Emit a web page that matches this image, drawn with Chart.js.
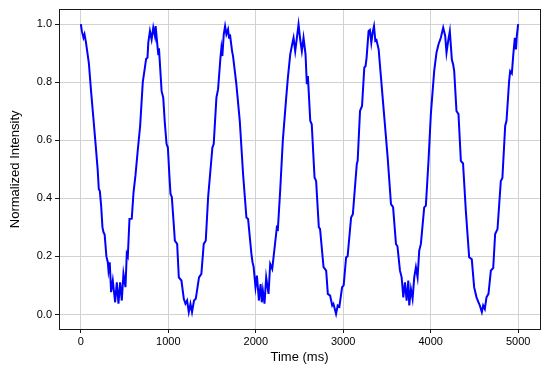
<!DOCTYPE html>
<html>
<head>
<meta charset="utf-8">
<script src="https://cdn.jsdelivr.net/npm/chart.js@4/dist/chart.umd.min.js"></script>
<style>
  html, body { margin: 0; padding: 0; background: #ffffff; }
  #wrap { width: 550px; height: 371px; }
</style>
</head>
<body>
<div id="wrap"><canvas id="c" width="550" height="371"></canvas></div>
<script>
// Time samples (ms)
const timeMs = [
  0, 12, 30, 42, 57, 91, 118, 142, 167, 192, 205, 217, 232, 247, 259, 272, 292, 308, 316, 330,
  346, 365, 392, 411, 430, 449, 468, 487, 510, 525, 537, 556, 582, 602, 624, 652, 678, 708, 732, 746,
  762, 771, 790, 809, 828, 847, 855, 874, 885, 893, 923, 942, 960, 980, 995, 1012, 1025, 1040, 1060, 1075,
  1101, 1120, 1150, 1177, 1196, 1215, 1234, 1253, 1271, 1294, 1314, 1351, 1378, 1405, 1428, 1455, 1504, 1519, 1550, 1569,
  1596, 1607, 1618, 1634, 1649, 1664, 1683, 1694, 1705, 1729, 1740, 1778, 1817, 1855, 1893, 1912, 1950, 1963, 1975, 1997,
  2013, 2036, 2055, 2069, 2081, 2100, 2119, 2146, 2165, 2188, 2203, 2241, 2253, 2279, 2309, 2348, 2367, 2394, 2416, 2432,
  2451, 2470, 2489, 2508, 2527, 2546, 2569, 2584, 2596, 2623, 2640, 2672, 2690, 2721, 2735, 2775, 2805, 2824, 2850, 2874,
  2888, 2918, 2937, 2956, 2987, 3005, 3033, 3050, 3090, 3110, 3155, 3165, 3192, 3215, 3241, 3255, 3267, 3290, 3305, 3321,
  3336, 3352, 3367, 3380, 3405, 3432, 3470, 3508, 3546, 3570, 3603, 3620, 3649, 3668, 3687, 3706, 3725, 3744, 3755, 3774,
  3793, 3812, 3831, 3850, 3869, 3888, 3926, 3945, 3975, 4002, 4040, 4066, 4089, 4116, 4143, 4166, 4181, 4200, 4219, 4242,
  4257, 4269, 4295, 4318, 4345, 4370, 4402, 4440, 4470, 4497, 4524, 4547, 4562, 4585, 4600, 4619, 4638, 4661, 4688, 4715,
  4737, 4764, 4802, 4820, 4852, 4867, 4897, 4909, 4928, 4945, 4962, 4975, 4985, 5000
];
// Normalized intensity values
const intensity = [
  1.000, 0.975, 0.953, 0.965, 0.940, 0.867, 0.764, 0.680, 0.592, 0.500, 0.432, 0.425, 0.374, 0.300, 0.283, 0.275, 0.200, 0.180, 0.151, 0.180,
  0.077, 0.117, 0.042, 0.111, 0.037, 0.111, 0.048, 0.140, 0.094, 0.209, 0.200, 0.329, 0.330, 0.420, 0.478, 0.570, 0.650, 0.800, 0.850, 0.880,
  0.885, 0.936, 0.976, 0.947, 0.988, 0.959, 0.993, 0.930, 0.896, 0.917, 0.770, 0.747, 0.660, 0.587, 0.575, 0.480, 0.415, 0.405, 0.320, 0.254,
  0.243, 0.128, 0.117, 0.054, 0.037, 0.048, 0.008, 0.037, 0.008, 0.048, 0.054, 0.128, 0.140, 0.243, 0.254, 0.403, 0.575, 0.587, 0.747, 0.776,
  0.884, 0.918, 0.890, 0.965, 0.993, 0.965, 0.982, 0.953, 0.965, 0.907, 0.890, 0.793, 0.667, 0.483, 0.334, 0.329, 0.209, 0.180, 0.165, 0.094,
  0.134, 0.048, 0.105, 0.042, 0.082, 0.037, 0.128, 0.071, 0.174, 0.157, 0.197, 0.300, 0.295, 0.426, 0.598, 0.747, 0.815, 0.896, 0.930, 0.953,
  0.907, 0.953, 0.999, 0.947, 0.907, 0.953, 0.896, 0.793, 0.821, 0.667, 0.655, 0.472, 0.460, 0.300, 0.295, 0.163, 0.151, 0.071, 0.065, 0.031,
  0.037, 0.002, 0.031, 0.027, 0.094, 0.100, 0.197, 0.200, 0.334, 0.345, 0.518, 0.529, 0.701, 0.718, 0.850, 0.855, 0.884, 0.976, 0.980, 0.936,
  0.971, 0.993, 0.942, 0.945, 0.913, 0.815, 0.678, 0.541, 0.380, 0.370, 0.243, 0.235, 0.151, 0.128, 0.059, 0.111, 0.048, 0.117, 0.031, 0.088,
  0.054, 0.128, 0.163, 0.128, 0.220, 0.243, 0.369, 0.375, 0.529, 0.690, 0.838, 0.901, 0.930, 0.953, 0.988, 0.959, 0.901, 0.942, 0.976, 0.878,
  0.861, 0.838, 0.701, 0.690, 0.529, 0.520, 0.357, 0.197, 0.190, 0.094, 0.059, 0.042, 0.031, 0.008, 0.031, 0.019, 0.059, 0.071, 0.151, 0.160,
  0.277, 0.294, 0.460, 0.470, 0.650, 0.667, 0.804, 0.838, 0.830, 0.896, 0.953, 0.913, 0.959, 1.000
];
const xTicks = [0, 1000, 2000, 3000, 4000, 5000];
const yTicks = [0.0, 0.2, 0.4, 0.6, 0.8, 1.0];
const xLabel = 'Time (ms)';
const yLabel = 'Normalized Intensity';

const points = timeMs.map((t, i) => ({ x: t, y: intensity[i] }));

const FONT = "'Liberation Sans', Arial, sans-serif";
const GRID = '#d2d2d2';
const SPINE = '#1a1a1a';

new Chart(document.getElementById('c'), {
  type: 'line',
  data: {
    datasets: [{
      data: points,
      xAxisID: 'x',
      yAxisID: 'y',
      borderColor: '#0000ff',
      borderWidth: 2,
      pointRadius: 0,
      tension: 0,
      fill: false
    }]
  },
  options: {
    responsive: false,
    animation: false,
    devicePixelRatio: 1,
    layout: { padding: { top: 9, right: 10, left: 0, bottom: 0 } },
    plugins: { legend: { display: false }, tooltip: { enabled: false } },
    scales: {
      x: {
        type: 'linear',
        position: 'bottom',
        min: -250,
        max: 5250,
        afterBuildTicks: s => { s.ticks = xTicks.map(v => ({ value: v })); },
        afterFit: s => { s.height = 42; },
        ticks: {
          callback: v => String(v),
          font: { family: FONT, size: 11 },
          color: '#000000',
          maxRotation: 0,
          padding: 2
        },
        grid: { color: GRID, lineWidth: 1, tickLength: 4, tickColor: SPINE, drawTicks: true },
        border: { display: true, color: SPINE, width: 1 },
        title: { display: true, text: xLabel, font: { family: FONT, size: 13 }, color: '#000000', padding: { top: 0, bottom: 6 } }
      },
      y: {
        type: 'linear',
        position: 'left',
        min: -0.05,
        max: 1.05,
        afterBuildTicks: s => { s.ticks = yTicks.map(v => ({ value: v })); },
        afterFit: s => { s.width = 59; },
        ticks: {
          callback: v => Number(v).toFixed(1),
          font: { family: FONT, size: 11 },
          color: '#000000',
          padding: 3
        },
        grid: { color: GRID, lineWidth: 1, tickLength: 4, tickColor: SPINE, drawTicks: true },
        border: { display: true, color: SPINE, width: 1 },
        title: { display: true, text: yLabel, font: { family: FONT, size: 13 }, color: '#000000', padding: { top: 8, bottom: 0 } }
      },
      xTop: {
        type: 'linear',
        axis: 'x',
        position: 'top',
        min: -250,
        max: 5250,
        afterFit: s => { s.height = 0; },
        ticks: { display: false },
        grid: { display: false, drawTicks: false },
        border: { display: true, color: SPINE, width: 1 }
      },
      yRight: {
        type: 'linear',
        axis: 'y',
        position: 'right',
        min: -0.05,
        max: 1.05,
        afterFit: s => { s.width = 0; },
        ticks: { display: false },
        grid: { display: false, drawTicks: false },
        border: { display: true, color: SPINE, width: 1 }
      }
    }
  }
});
</script>
</body>
</html>
